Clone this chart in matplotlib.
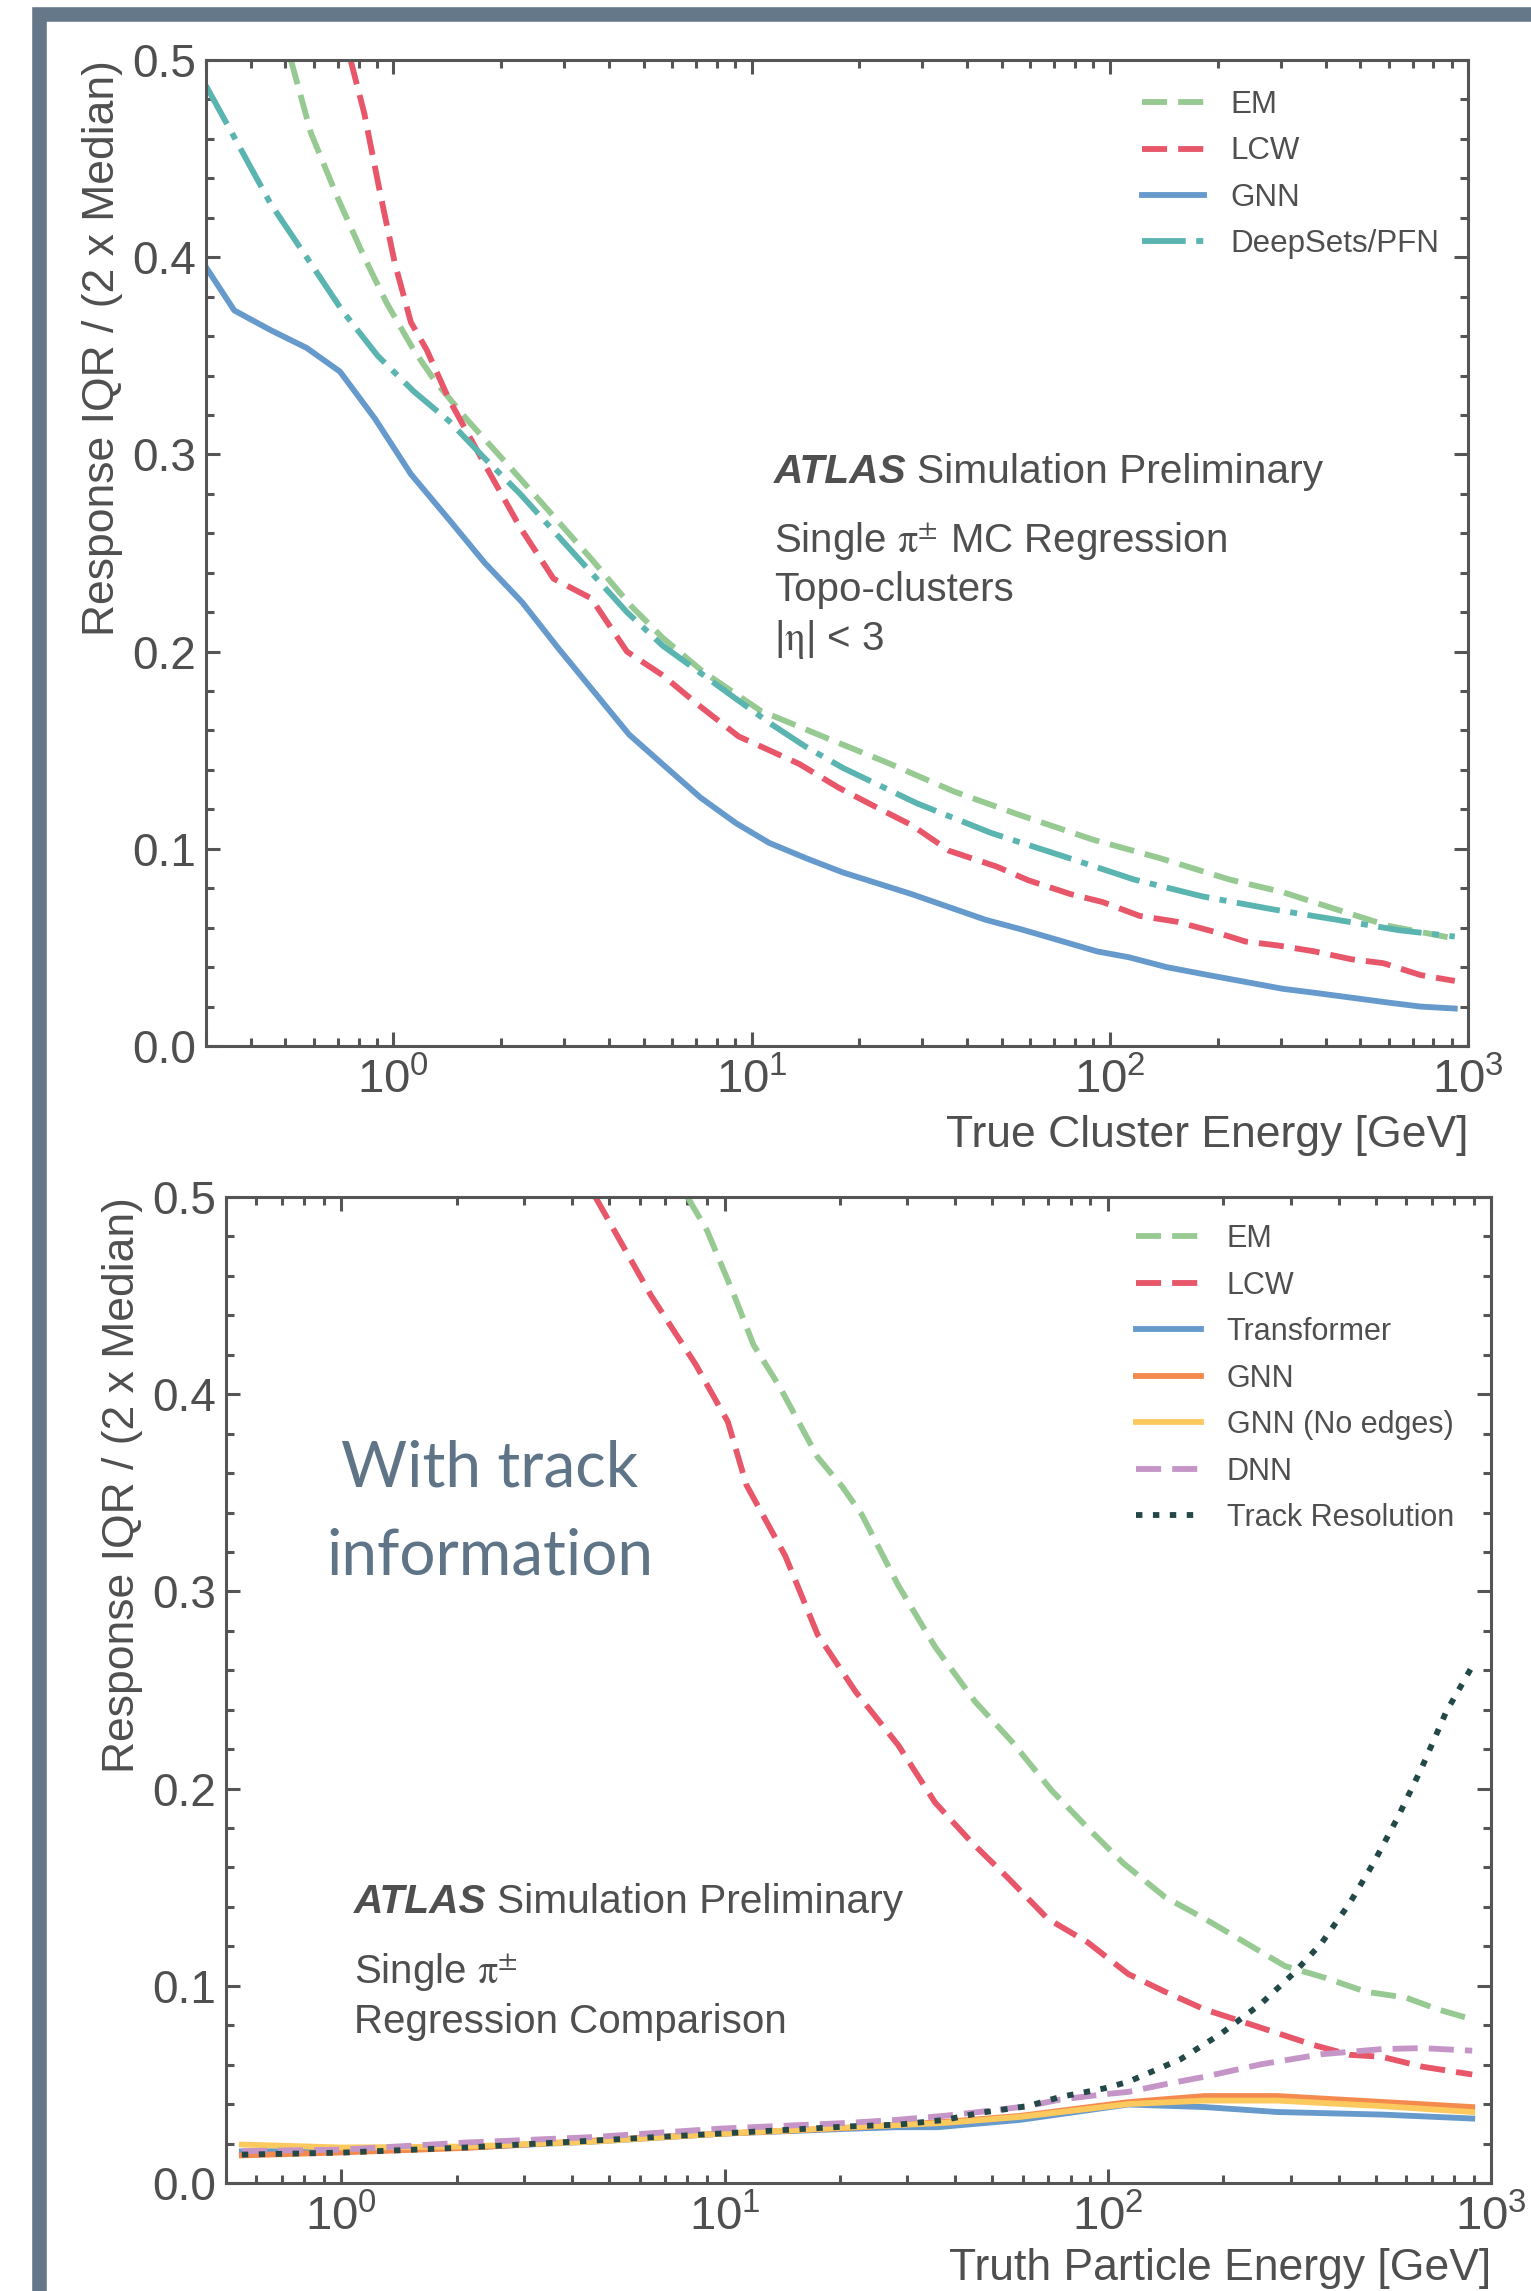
import matplotlib
matplotlib.use("Agg")
import matplotlib.pyplot as plt
from matplotlib.patches import Rectangle
from matplotlib.ticker import MultipleLocator, LogLocator, NullFormatter, FormatStrFormatter

plt.rcParams['font.family'] = ['Liberation Sans', 'DejaVu Sans']
plt.rcParams['mathtext.fontset'] = 'custom'
plt.rcParams['mathtext.rm'] = 'Liberation Sans'
plt.rcParams['mathtext.it'] = 'Liberation Sans:italic'
plt.rcParams['mathtext.bf'] = 'Liberation Sans:bold'

# ---------------- Topo-cluster regression (upper panel) ----------------
em_top_x = [0.518, 0.589, 0.70, 0.83, 0.957, 1.14, 1.31, 1.6, 2.13, 2.76, 3.57, 4.62, 5.65, 7.3,
            10.6, 16.8, 23.7, 36.8, 55.3, 89.5, 139, 216, 304, 427, 600, 918]
em_top_y = [0.50, 0.463, 0.43, 0.40, 0.377, 0.353, 0.337, 0.318, 0.293, 0.27, 0.247, 0.223, 0.207, 0.19,
            0.17, 0.155, 0.144, 0.129, 0.1175, 0.1047, 0.0951, 0.0844, 0.078, 0.0694, 0.0609, 0.0545]

lcw_top_x = [0.76, 0.83, 0.918, 1.01, 1.12, 1.24, 1.43, 1.80, 2.26, 2.8, 3.57, 4.49, 5.65, 7.1, 9.2,
             11.2, 13.6, 17.5, 22.9, 28, 35.6, 48.3, 59.3, 77.8, 95.5, 121, 154, 195, 239, 294, 372,
             472, 580, 736, 918]
lcw_top_y = [0.50, 0.473, 0.433, 0.397, 0.367, 0.353, 0.328, 0.295, 0.263, 0.237, 0.227, 0.20, 0.188,
             0.173, 0.157, 0.150, 0.143, 0.131, 0.120, 0.112, 0.099, 0.091, 0.084, 0.077, 0.073, 0.066,
             0.063, 0.058, 0.053, 0.051, 0.048, 0.044, 0.042, 0.036, 0.033]

gnn_top_x = [0.30, 0.36, 0.455, 0.573, 0.71, 0.89, 1.12, 1.43, 1.80, 2.29, 2.88, 3.62, 4.55, 5.72,
             7.2, 9.05, 11.2, 14.3, 18, 28, 45, 57, 92, 113, 144, 188, 304, 372, 600, 736, 918]
gnn_top_y = [0.395, 0.373, 0.363, 0.354, 0.342, 0.318, 0.29, 0.267, 0.245, 0.225, 0.202, 0.18, 0.158,
             0.142, 0.126, 0.113, 0.103, 0.095, 0.088, 0.077, 0.064, 0.059, 0.048, 0.045, 0.040,
             0.036, 0.029, 0.027, 0.022, 0.020, 0.019]

ds_top_x = [0.30, 0.362, 0.455, 0.573, 0.72, 0.905, 1.14, 1.43, 1.8, 2.26, 2.84, 3.57, 4.49, 5.65,
            7.1, 8.9, 11.4, 14.1, 18, 29, 46.7, 77.8, 117, 182, 283, 427, 643, 918]
ds_top_y = [0.487, 0.46, 0.427, 0.40, 0.373, 0.35, 0.332, 0.317, 0.298, 0.28, 0.26, 0.24, 0.22, 0.203,
            0.19, 0.177, 0.163, 0.152, 0.141, 0.123, 0.108, 0.095, 0.0844, 0.0758, 0.0694, 0.0641,
            0.0587, 0.0555]

# ---------------- Regression with track information (lower panel) ----------------
em_bot_x = [8.0, 9.0, 10.6, 11.9, 13.9, 17.5, 20.3, 22.8, 28.4, 35.4, 45.1, 56.1, 71.4, 88.7, 110,
            141, 179, 228, 290, 370, 471, 600, 728, 893]
em_bot_y = [0.50, 0.483, 0.45, 0.425, 0.404, 0.368, 0.353, 0.339, 0.303, 0.272, 0.244, 0.224, 0.199,
            0.180, 0.162, 0.145, 0.134, 0.122, 0.110, 0.104, 0.097, 0.094, 0.088, 0.083]

lcw_bot_x = [4.6, 6.43, 8.41, 10.2, 11.4, 14.4, 17.5, 22.0, 28.4, 35.4, 44.0, 54.7, 69.7, 88.7, 113,
             141, 179, 223, 277, 344, 428, 519, 661, 893]
lcw_bot_y = [0.50, 0.45, 0.415, 0.386, 0.354, 0.318, 0.278, 0.249, 0.222, 0.193, 0.173, 0.155, 0.134,
             0.122, 0.106, 0.097, 0.088, 0.082, 0.076, 0.070, 0.065, 0.064, 0.059, 0.055]

trf_bot_x = [0.55, 1.0, 2.11, 4.55, 9.8, 21.1, 28.4, 36.0, 59.0, 113, 179, 277, 519, 893]
trf_bot_y = [0.016, 0.0165, 0.018, 0.021, 0.025, 0.0275, 0.0283, 0.0283, 0.032, 0.0398, 0.0385,
             0.036, 0.0347, 0.0327]

gnn_bot_x = [0.55, 1.0, 2.11, 4.55, 9.8, 21.1, 37.6, 59.0, 113, 179, 277, 519, 893]
gnn_bot_y = [0.014, 0.0155, 0.0178, 0.0215, 0.025, 0.028, 0.031, 0.034, 0.041, 0.0441, 0.0441,
             0.0411, 0.0385]

gnn_ne_bot_x = [0.55, 1.0, 2.11, 4.55, 9.8, 21.1, 37.6, 59.0, 113, 179, 277, 519, 893]
gnn_ne_bot_y = [0.0195, 0.018, 0.0185, 0.021, 0.025, 0.0282, 0.0305, 0.0335, 0.040, 0.0418, 0.0418,
                0.039, 0.036]

dnn_bot_x = [0.55, 1.0, 2.11, 4.55, 9.8, 21.1, 28.4, 37.6, 46.1, 61.9, 75, 98, 113, 143, 179, 251,
             361, 519, 661, 893]
dnn_bot_y = [0.0162, 0.0169, 0.0205, 0.0233, 0.0276, 0.0305, 0.0321, 0.0341, 0.036, 0.039, 0.0423,
             0.045, 0.0462, 0.0503, 0.0539, 0.0602, 0.0653, 0.0679, 0.0684, 0.0671]

trk_bot_x = [0.55, 1.0, 2.11, 4.55, 9.8, 21.1, 28.4, 37.6, 46.1, 61.9, 75, 98, 113, 155, 197, 251,
             305, 361, 428, 494, 571, 661, 764, 893]
trk_bot_y = [0.0144, 0.0154, 0.018, 0.0215, 0.0251, 0.0287, 0.0296, 0.032, 0.0355, 0.039, 0.0436,
             0.048, 0.0513, 0.0628, 0.0756, 0.0909, 0.1062, 0.1216, 0.142, 0.1624, 0.1854, 0.211,
             0.239, 0.262]

TEXT = '#4f4f4f'
SPINE = '#555555'
C_EM = '#97c993'
C_LCW = '#e8566a'
C_BLUE = '#6699cc'
C_TEAL = '#5ab4b0'
C_ORANGE = '#f58a4e'
C_YELLOW = '#fcc95e'
C_PURPLE = '#c595c8'
C_TRACK = '#234848'

LW = 4.2
DASH = (0, (4.3, 1.9))
DASHDOT = (0, (7.5, 1.8, 1.2, 1.8))
DOT = (0, (1.1, 1.8))

fig = plt.figure(figsize=(15.31, 22.91), dpi=100)
fig.patch.set_facecolor('white')

# slate frame around the figure (only the left and top edges fall inside the canvas)
fig.patches.append(Rectangle((0.0258, -0.2), 1.3, 0.99389 + 0.2, transform=fig.transFigure,
                             fill=False, edgecolor='#64788a', linewidth=10.5, zorder=0))


def style_axes(ax, xmin, xmax):
    ax.set_xscale('log')
    ax.set_xlim(xmin, xmax)
    ax.set_ylim(0, 0.5)
    ax.yaxis.set_major_locator(MultipleLocator(0.1))
    ax.yaxis.set_minor_locator(MultipleLocator(0.02))
    ax.yaxis.set_major_formatter(FormatStrFormatter('%.1f'))
    ax.xaxis.set_major_locator(LogLocator(base=10, numticks=10))
    ax.xaxis.set_minor_locator(LogLocator(base=10, subs=range(2, 10), numticks=20))
    ax.xaxis.set_minor_formatter(NullFormatter())
    for s in ax.spines.values():
        s.set_color(SPINE)
        s.set_linewidth(2.2)
    ax.tick_params(which='both', direction='in', top=True, right=True, color=SPINE, width=2.2)
    ax.tick_params(which='major', length=10, labelcolor=TEXT)
    ax.tick_params(axis='y', which='major', labelsize=33, pad=7)
    ax.tick_params(axis='x', which='major', labelsize=34, pad=9)
    ax.tick_params(which='minor', length=6)


# ---------------- upper panel ----------------
ax1 = fig.add_axes([0.1345, 0.54343, 0.8244, 0.43038])
style_axes(ax1, 0.3, 1000)
ax1.plot(em_top_x, em_top_y, color=C_EM, lw=LW, ls=DASH, label='EM')
ax1.plot(lcw_top_x, lcw_top_y, color=C_LCW, lw=LW, ls=DASH, label='LCW')
ax1.plot(gnn_top_x, gnn_top_y, color=C_BLUE, lw=LW, ls='-', label='GNN')
ax1.plot(ds_top_x, ds_top_y, color=C_TEAL, lw=LW, ls=DASHDOT, label='DeepSets/PFN')
ax1.set_ylabel('Response IQR / (2 x Median)', fontsize=32, color=TEXT, loc='top', labelpad=7)
ax1.set_xlabel('True Cluster Energy [GeV]', fontsize=32, color=TEXT, loc='right', labelpad=8)
leg1 = ax1.legend(loc='upper left', bbox_to_anchor=(0.7315, 0.982), frameon=False, fontsize=22.5,
                  handlelength=2.0, handletextpad=0.85, labelspacing=0.52, borderaxespad=0)
for t in leg1.get_texts():
    t.set_color(TEXT)

# ---------------- lower panel ----------------
ax2 = fig.add_axes([0.1476, 0.04714, 0.8263, 0.43038])
style_axes(ax2, 0.5, 1000)
ax2.plot(em_bot_x, em_bot_y, color=C_EM, lw=LW, ls=DASH, label='EM')
ax2.plot(lcw_bot_x, lcw_bot_y, color=C_LCW, lw=LW, ls=DASH, label='LCW')
ax2.plot(trf_bot_x, trf_bot_y, color=C_BLUE, lw=LW, ls='-', label='Transformer')
ax2.plot(gnn_bot_x, gnn_bot_y, color=C_ORANGE, lw=LW, ls='-', label='GNN')
ax2.plot(gnn_ne_bot_x, gnn_ne_bot_y, color=C_YELLOW, lw=LW, ls='-', label='GNN (No edges)')
ax2.plot(dnn_bot_x, dnn_bot_y, color=C_PURPLE, lw=LW, ls=DASH, label='DNN')
ax2.plot(trk_bot_x, trk_bot_y, color=C_TRACK, lw=LW, ls=DOT, label='Track Resolution')
ax2.set_ylabel('Response IQR / (2 x Median)', fontsize=32, color=TEXT, loc='top', labelpad=7)
ax2.set_xlabel('Truth Particle Energy [GeV]', fontsize=32, color=TEXT, loc='right', labelpad=5)
leg2 = ax2.legend(loc='upper left', bbox_to_anchor=(0.710, 0.985), frameon=False, fontsize=22,
                  handlelength=2.1, handletextpad=0.85, labelspacing=0.54, borderaxespad=0)
for t in leg2.get_texts():
    t.set_color(TEXT)

# ---------------- annotations ----------------
def atlas_label(ax, x, y, size):
    t = ax.text(x, y, 'ATLAS', transform=ax.transAxes, fontsize=size, fontweight='bold',
                fontstyle='italic', color=TEXT, va='center', ha='left')
    fig.canvas.draw()
    bb = t.get_window_extent(renderer=fig.canvas.get_renderer())
    x_end = ax.transAxes.inverted().transform((bb.x1, bb.y0))[0]
    ax.text(x_end + 0.008, y, 'Simulation Preliminary', transform=ax.transAxes, fontsize=size,
            color=TEXT, va='center', ha='left')


atlas_label(ax1, 0.450, 0.582, 29.3)
ax1.text(0.450, 0.512, r'Single $\mathrm{π}^{\pm}$ MC Regression', transform=ax1.transAxes,
         fontsize=29, color=TEXT, va='center', ha='left', math_fontfamily='stix')
ax1.text(0.450, 0.4625, 'Topo-clusters', transform=ax1.transAxes, fontsize=29,
         color=TEXT, va='center', ha='left')
ax1.text(0.450, 0.4118, r'|$\mathrm{η}$| < 3', transform=ax1.transAxes, fontsize=29,
         color=TEXT, va='center', ha='left', math_fontfamily='stix')

atlas_label(ax2, 0.1012, 0.285, 29.3)
ax2.text(0.1012, 0.214, r'Single $\mathrm{π}^{\pm}$', transform=ax2.transAxes, fontsize=29,
         color=TEXT, va='center', ha='left', math_fontfamily='stix')
ax2.text(0.1012, 0.163, 'Regression Comparison', transform=ax2.transAxes, fontsize=29,
         color=TEXT, va='center', ha='left')

ax2.text(0.2087, 0.725, 'With track', transform=ax2.transAxes, fontsize=46, color='#5f7587',
         va='center', ha='center', family=['Lato', 'DejaVu Sans'], fontweight='normal')
ax2.text(0.2087, 0.635, 'information', transform=ax2.transAxes, fontsize=46, color='#5f7587',
         va='center', ha='center', family=['Lato', 'DejaVu Sans'], fontweight='normal')

fig.savefig('out.png', dpi=100, facecolor='white')
